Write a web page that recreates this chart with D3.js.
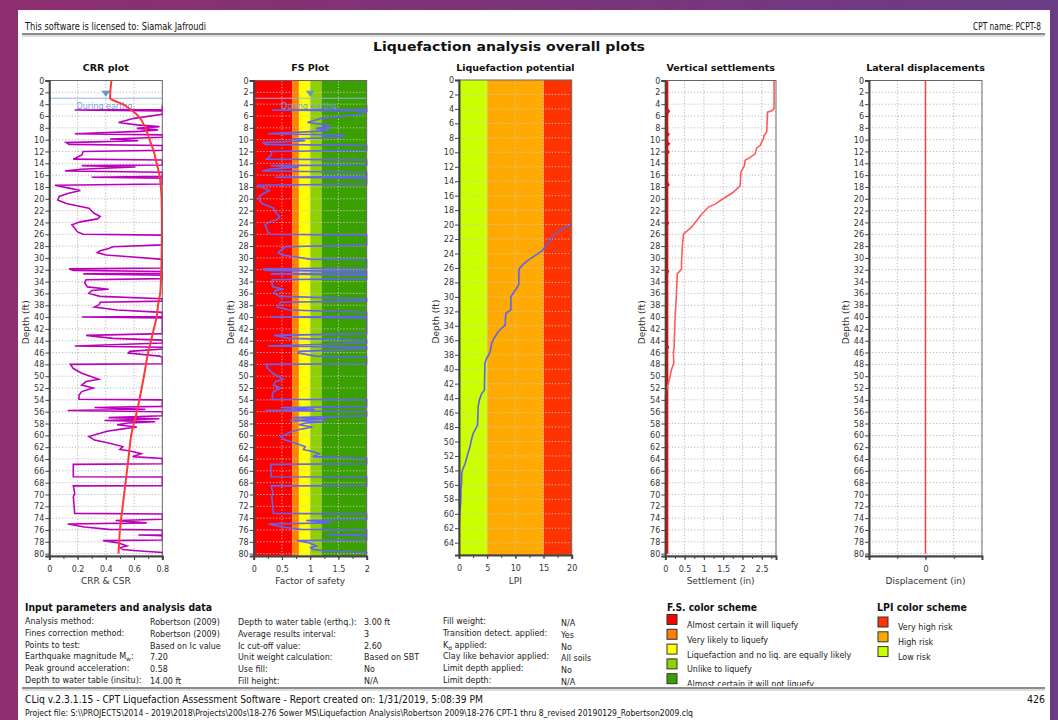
<!DOCTYPE html>
<html><head><meta charset="utf-8">
<script src="https://cdn.jsdelivr.net/npm/d3@7"></script>
<style>body{margin:0;overflow:hidden;} text{font-family:"DejaVu Sans",Verdana,sans-serif;}</style>
</head><body><script>
// ---------------- DATA ----------------
const depthTicks = d3.range(0, 81, 2);
const lpiDepthTicks = d3.range(0, 65, 2);
const crrTicks = [0, 0.2, 0.4, 0.6, 0.8];
const fsTicks = [0, 0.5, 1, 1.5, 2];
const lpiTicks = [0, 5, 10, 15, 20];
const settleTicks = [0, 0.5, 1, 1.5, 2, 2.5];
const latTicks = [0];
const waterTableEq = 3.0;

// CRR profile [depth ft, CRR] (values >= 0.8 shown at the plot edge)
const crrProfile = [[4.2,0.8],[4.9,0.8],[5.0,0.18],[5.15,0.8],[5.7,0.8],[6.4,0.6],[7.1,0.49],[7.5,0.62],[7.8,0.78],[8.1,0.62],[8.35,0.77],[8.6,0.64],[9.0,0.18],[9.2,0.8],[9.6,0.8],[9.9,0.43],[10.2,0.63],[10.5,0.12],[10.8,0.14],[11.0,0.8],[11.8,0.8],[12.0,0.24],[12.6,0.23],[13.3,0.17],[13.45,0.8],[14.3,0.8],[14.4,0.23],[14.6,0.61],[15.0,0.22],[15.3,0.11],[15.5,0.8],[16.2,0.8],[16.35,0.3],[16.5,0.8],[17.5,0.8],[17.7,0.04],[18.2,0.14],[18.6,0.22],[19.1,0.13],[19.6,0.07],[20.2,0.06],[20.8,0.12],[21.6,0.28],[22.5,0.32],[23.0,0.36],[23.4,0.34],[23.9,0.22],[24.4,0.16],[25.0,0.18],[25.6,0.20],[26.0,0.24],[26.15,0.8],[27.8,0.8],[28.1,0.45],[28.4,0.42],[28.8,0.36],[29.1,0.34],[29.5,0.4],[29.8,0.57],[30.2,0.78],[30.3,0.8],[31.7,0.8],[31.85,0.14],[32.1,0.17],[32.3,0.8],[32.6,0.8],[32.7,0.24],[32.9,0.8],[33.5,0.8],[33.7,0.26],[34.2,0.25],[34.9,0.27],[35.3,0.42],[35.5,0.30],[36.0,0.28],[36.5,0.36],[36.9,0.8],[37.3,0.8],[37.5,0.36],[38.0,0.35],[38.3,0.32],[38.8,0.48],[39.2,0.8],[39.9,0.8],[40.0,0.23],[40.15,0.8],[42.8,0.8],[43.1,0.26],[43.6,0.45],[43.9,0.8],[44.4,0.8],[44.9,0.18],[45.1,0.8],[45.4,0.8],[45.8,0.57],[46.1,0.56],[46.6,0.78],[46.8,0.8],[47.9,0.8],[48.0,0.15],[48.7,0.17],[49.5,0.23],[50.0,0.29],[50.5,0.35],[50.9,0.26],[51.5,0.23],[52.0,0.31],[52.6,0.23],[53.2,0.21],[53.9,0.21],[54.0,0.8],[55.1,0.8],[55.3,0.32],[55.6,0.68],[55.8,0.13],[56.0,0.8],[56.7,0.8],[57.0,0.42],[57.2,0.78],[57.5,0.39],[57.7,0.75],[57.9,0.56],[58.2,0.48],[58.6,0.62],[58.9,0.52],[59.3,0.41],[60.2,0.28],[60.8,0.32],[61.3,0.42],[61.9,0.52],[62.4,0.50],[62.7,0.58],[63.1,0.65],[63.6,0.59],[63.9,0.8],[64.8,0.8],[64.9,0.17],[67.0,0.17],[67.05,0.8],[68.5,0.8],[68.55,0.17],[69.8,0.18],[70.4,0.17],[73.2,0.18],[73.3,0.8],[74.2,0.8],[74.4,0.47],[74.8,0.69],[75.0,0.13],[75.5,0.25],[75.9,0.42],[76.0,0.8],[76.8,0.8],[76.85,0.63],[76.95,0.8],[77.7,0.8],[77.8,0.38],[78.2,0.49],[78.7,0.55],[79.0,0.5],[79.3,0.52],[79.5,0.62],[79.8,0.8],[80.0,0.8]];

// CSR profile [depth ft, CSR]
const csrProfile = [[0,0.44],[3,0.43],[3.2,0.44],[4,0.52],[5,0.58],[6,0.63],[8,0.68],[10,0.71],[12,0.74],[14,0.76],[16,0.78],[18,0.79],[20,0.795],[25,0.797],[30,0.795],[34,0.79],[36,0.785],[38,0.77],[40,0.76],[42,0.74],[44,0.72],[46,0.70],[50,0.67],[56,0.62],[60,0.58],[64,0.56],[70,0.53],[76,0.50],[80,0.49]];

// Factor of safety profile [depth ft, FS] (values >= 2 shown at the plot edge)
const fsProfile = [[4.2,2],[4.9,2],[5.0,0.32],[5.15,2],[5.7,1.9],[6.4,1.2],[7.1,0.95],[7.5,1.3],[7.8,1.35],[8.1,1.1],[8.35,1.35],[8.6,1.1],[9.0,0.26],[9.2,1.6],[9.6,1.55],[9.9,0.67],[10.2,0.91],[10.5,0.17],[10.8,0.2],[11.0,2],[11.8,2],[12.0,0.32],[12.6,0.31],[13.3,0.23],[13.45,2],[14.3,2],[14.4,0.3],[14.6,0.8],[15.0,0.29],[15.3,0.15],[15.5,2],[16.2,2],[16.35,0.38],[16.5,2],[17.5,2],[17.7,0.06],[18.2,0.18],[18.6,0.28],[19.1,0.17],[19.6,0.1],[20.2,0.1],[20.8,0.15],[21.6,0.35],[22.5,0.4],[23.0,0.46],[23.4,0.43],[23.9,0.28],[24.4,0.2],[25.0,0.23],[25.6,0.25],[26.0,0.3],[26.15,2],[27.8,2],[28.1,0.57],[28.4,0.53],[28.8,0.46],[29.1,0.43],[29.5,0.5],[29.8,0.72],[30.2,0.99],[30.3,2],[31.7,2],[31.85,0.18],[32.1,0.21],[32.3,2],[32.6,2],[32.7,0.3],[32.9,2],[33.5,2],[33.7,0.33],[34.2,0.32],[34.9,0.34],[35.3,0.53],[35.5,0.38],[36.0,0.36],[36.5,0.46],[36.9,2],[37.3,2],[37.5,0.47],[38.0,0.45],[38.3,0.42],[38.8,0.62],[39.2,2],[39.9,2],[40.0,0.3],[40.15,2],[42.8,2],[43.1,0.36],[43.6,0.62],[43.9,2],[44.4,2],[44.9,0.25],[45.1,2],[45.4,2],[45.8,0.8],[46.1,0.79],[46.6,1.1],[46.8,2],[47.9,2],[48.0,0.22],[48.7,0.25],[49.5,0.34],[50.0,0.43],[50.5,0.52],[50.9,0.39],[51.5,0.35],[52.0,0.48],[52.6,0.35],[53.2,0.33],[53.9,0.33],[54.0,2],[55.1,2],[55.3,0.5],[55.6,1.08],[55.8,0.2],[56.0,2],[56.7,2],[57.0,0.69],[57.2,1.3],[57.5,0.64],[57.7,1.25],[57.9,0.93],[58.2,0.8],[58.6,1.04],[58.9,0.87],[59.3,0.69],[60.2,0.48],[60.8,0.56],[61.3,0.73],[61.9,0.91],[62.4,0.88],[62.7,1.02],[63.1,1.16],[63.6,1.05],[63.9,2],[64.8,2],[64.9,0.3],[67.0,0.31],[67.05,2],[68.5,2],[68.55,0.31],[69.8,0.34],[70.4,0.32],[73.2,0.35],[73.3,2],[74.2,2],[74.4,0.93],[74.8,1.37],[75.0,0.26],[75.5,0.5],[75.9,0.83],[76.0,2],[76.8,2],[76.85,1.27],[76.95,2],[77.7,2],[77.8,0.77],[78.2,0.99],[78.7,1.11],[79.0,1.01],[79.3,1.05],[79.5,1.26],[79.8,2],[80.0,2]];

// Liquefaction potential index profile [depth ft, LPI]
const lpiProfile = [[19.9,20],[20.55,18.5],[21.0,17.6],[21.5,16.7],[22.2,16.2],[22.9,15.4],[23.6,14.8],[24.3,13.5],[24.9,12.3],[25.5,11.4],[26.1,10.7],[26.3,10.65],[28.3,10.6],[28.6,10.4],[29.5,9.6],[30.0,9.2],[31.8,9.2],[32.3,8.3],[33.9,8.2],[34.3,7.6],[35.0,6.8],[35.9,6.1],[36.4,5.8],[37.4,5.6],[37.8,5.4],[38.5,4.9],[39.2,4.6],[42.9,4.5],[43.4,4.0],[44.3,3.6],[45.2,3.4],[47.7,3.3],[48.2,3.0],[48.9,2.5],[49.8,2.2],[50.7,1.95],[51.9,1.5],[53.0,1.1],[53.9,0.65],[54.4,0.5],[55.8,0.45],[56.7,0.35],[58.5,0.3],[59.5,0.18],[60.4,0.1],[61.1,0.05],[61.6,0.0]];

// Cumulative vertical settlement [depth ft, settlement in]
const settleProfile = [[0,2.82],[4.8,2.82],[5.1,2.76],[5.35,2.65],[8.7,2.63],[9.3,2.56],[9.9,2.54],[10.4,2.5],[11.0,2.46],[11.4,2.37],[12.4,2.33],[13.0,2.2],[13.5,2.07],[14.4,2.05],[15.5,1.96],[17.8,1.94],[18.9,1.76],[20.0,1.5],[20.9,1.29],[21.4,1.12],[22.6,0.94],[23.7,0.81],[24.8,0.68],[25.9,0.48],[26.2,0.47],[28.2,0.44],[31.0,0.42],[31.9,0.42],[32.7,0.31],[36.1,0.29],[40.6,0.25],[45.0,0.23],[46.0,0.21],[47.8,0.22],[48.9,0.16],[50.1,0.12],[51.2,0.08],[52.3,0.03],[52.9,0.01],[53.5,0],[80,0]];

// Layer settlement [depth ft, settlement in]
const layerSettleProfile = [[0,0.04],[4.8,0.04],[5.2,0.08],[5.6,0.04],[8.8,0.04],[9.1,0.07],[9.4,0.04],[10.4,0.04],[10.7,0.08],[11.0,0.04],[11.8,0.04],[12.1,0.07],[12.4,0.04],[17.3,0.04],[17.6,0.07],[17.9,0.04],[23.8,0.04],[24.1,0.06],[24.4,0.04],[32.0,0.04],[32.3,0.06],[32.6,0.04],[44.8,0.04],[45.1,0.06],[45.4,0.04],[80,0.04]];

// Lateral displacement [depth ft, displacement in]
const latProfile = [[0,0],[80,0]];

const fsBandLimits = [0, 0.68, 0.8, 1.0, 1.2, 2];
const fsBandColors = ["#ff0000", "#ff8000", "#ffff00", "#90d000", "#3aa000"];
const lpiBandLimits = [0, 5, 15, 20];
const lpiBandColors = ["#ccff00", "#ffaa00", "#ff3300"];

const fsLegend = ["Almost certain it will liquefy", "Very likely to liquefy", "Liquefaction and no liq. are equally likely", "Unlike to liquefy", "Almost certain it will not liquefy"];
const lpiLegendColors = ["#ff3300", "#ffaa00", "#ccff00"];
const lpiLegend = ["Very high risk", "High risk", "Low risk"];

const paramLabels1 = ["Analysis method:", "Fines correction method:", "Points to test:", ["Earthquake magnitude M", "w", ":"], "Peak ground acceleration:", "Depth to water table (insitu):"];
const paramValues1 = ["Robertson (2009)", "Robertson (2009)", "Based on Ic value", "7.20", "0.58", "14.00 ft"];
const paramLabels2 = ["Depth to water table (erthq.):", "Average results interval:", "Ic cut-off value:", "Unit weight calculation:", "Use fill:", "Fill height:"];
const paramValues2 = ["3.00 ft", "3", "2.60", "Based on SBT", "No", "N/A"];
const paramLabels3 = ["Fill weight:", "Transition detect. applied:", ["K", "σ", " applied:"], "Clay like behavior applied:", "Limit depth applied:", "Limit depth:"];
const paramValues3 = ["N/A", "Yes", "No", "All soils", "No", "N/A"];

// ---------------- DRAWING ----------------
const W = 1058, H = 720;
const NARROW = '"Liberation Sans Narrow","DejaVu Sans Condensed",sans-serif';
const svg = d3.select("body").append("svg").attr("width", W).attr("height", H);
const defs = svg.append("defs");
const grad = defs.append("linearGradient").attr("id", "bg").attr("x1", 0).attr("x2", 1).attr("y1", 0).attr("y2", 0);
grad.append("stop").attr("offset", 0).attr("stop-color", "#8e2e6e");
grad.append("stop").attr("offset", 0.5).attr("stop-color", "#7c3479");
grad.append("stop").attr("offset", 1).attr("stop-color", "#6a3c86");
svg.append("rect").attr("width", W).attr("height", H).attr("fill", "url(#bg)");
svg.append("rect").attr("x", 18).attr("y", 10).attr("width", 1032).attr("height", 710).attr("fill", "#ffffff");

function text(g, x, y, s, o = {}) {
  const t = g.append("text").attr("x", x).attr("y", y).text(s)
    .attr("font-size", o.size || 8).attr("fill", o.fill || "#222")
    .attr("text-anchor", o.anchor || "start");
  if (o.weight) t.attr("font-weight", o.weight);
  if (o.family) t.style("font-family", o.family);
  if (o.ls) t.attr("letter-spacing", o.ls);
  if (o.len) t.attr("textLength", o.len).attr("lengthAdjust", "spacingAndGlyphs");
  return t;
}

// header
text(svg, 25, 30, "This software is licensed to: Siamak Jafroudi", {size: 10.5, family: NARROW, fill: "#111", len: 181});
text(svg, 1041, 30, "CPT name: PCPT-8", {size: 10.5, family: NARROW, anchor: "end", fill: "#111", len: 68});
svg.append("line").attr("x1", 22).attr("x2", 1045).attr("y1", 34).attr("y2", 34).attr("stroke", "#666").attr("stroke-width", 1.5);
svg.append("line").attr("x1", 22).attr("x2", 1045).attr("y1", 36).attr("y2", 36).attr("stroke", "#bbb").attr("stroke-width", 1);
text(svg, 509, 51, "Liquefaction analysis overall plots", {size: 13, weight: "bold", anchor: "middle", fill: "#111", len: 272});

const line = (x, y) => d3.line().x(d => x(d[1])).y(d => y(d[0]));

function panel(c) {
  const x = d3.scaleLinear().domain(c.xDomain).range([c.left, c.right]).clamp(true);
  const y = d3.scaleLinear().domain(c.yDomain).range([c.top, c.bottom]);
  const g = svg.append("g");
  const id = "clip" + c.id;
  defs.append("clipPath").attr("id", id).append("rect")
    .attr("x", c.left - 1).attr("y", c.top).attr("width", c.right - c.left + 2).attr("height", c.bottom - c.top);
  if (c.bands) {
    c.bands.limits.slice(0, -1).forEach((l, i) => {
      g.append("rect").attr("x", x(l)).attr("y", c.top).attr("width", x(c.bands.limits[i + 1]) - x(l))
        .attr("height", c.bottom - c.top).attr("fill", c.bands.colors[i]);
    });
  }
  const gridCol = c.bands ? "#c8c8c8" : "#b8b8b8";
  c.yTicks.filter(d => d > 0).forEach(d => g.append("line").attr("x1", c.left).attr("x2", c.right)
    .attr("y1", y(d)).attr("y2", y(d)).attr("stroke", gridCol).attr("stroke-dasharray", "1.2,2"));
  c.xGrid.forEach(d => g.append("line").attr("x1", x(d)).attr("x2", x(d))
    .attr("y1", c.top).attr("y2", c.bottom).attr("stroke", gridCol).attr("stroke-dasharray", "1.2,2"));
  const inner = g.append("g").attr("clip-path", `url(#${id})`);
  c.draw(inner, x, y);
  g.append("rect").attr("x", c.left).attr("y", c.top).attr("width", c.right - c.left).attr("height", c.bottom - c.top)
    .attr("fill", "none").attr("stroke", "#666").attr("stroke-width", 1);
  // axes
  const ya = g.append("g").attr("transform", `translate(${c.left},0)`)
    .call(d3.axisLeft(y).tickValues(c.yTicks).tickSize(4).tickPadding(1).tickFormat(d => String(d)));
  const xa = g.append("g").attr("transform", `translate(0,${c.bottom})`)
    .call(d3.axisBottom(x).tickValues(c.xTicks).tickSize(4).tickPadding(6).tickFormat(d => String(d)));
  const xm = g.append("g").attr("transform", `translate(0,${c.bottom})`)
    .call(d3.axisBottom(x).tickValues(c.xMinor).tickSize(3).tickFormat(""));
  xm.select(".domain").remove();
  [ya, xa, xm].forEach(a => {
    a.selectAll(".domain").attr("stroke", "#444").attr("stroke-width", 2);
    a.selectAll(".tick line").attr("stroke", "#444");
    a.selectAll("text").attr("font-size", 8).attr("fill", "#333").style("font-family", '"DejaVu Sans",sans-serif');
  });
  // titles
  text(svg, (c.left + c.right) / 2, 71, c.title, {size: 9.5, weight: "bold", anchor: "middle", fill: "#111"});
  text(svg, (c.left + c.right) / 2, 584, c.xLabel, {size: 9, anchor: "middle", fill: "#333"});
  svg.append("text").attr("transform", `translate(${c.left - 20},${(c.top + c.bottom) / 2 + 4}) rotate(-90)`)
    .attr("text-anchor", "middle").attr("font-size", 9).attr("fill", "#333").text("Depth (ft)");
  return {x, y};
}

function waterTable(g, x, y, xv, c) {
  g.append("line").attr("x1", c.left).attr("x2", c.right).attr("y1", y(waterTableEq)).attr("y2", y(waterTableEq))
    .attr("stroke", "#8fb4e3").attr("stroke-width", 1.2);
  const cx = x(xv), ty = y(waterTableEq) - 1.5;
  g.append("path").attr("d", `M${cx - 4.5},${ty - 6}L${cx + 4.5},${ty - 6}L${cx},${ty}Z`).attr("fill", "#5b9bd5");
  text(g, cx, y(waterTableEq) + 11, "During earthq.", {size: 8, anchor: "middle", fill: "#6fa3dc"});
}

const TOP = 80.5, BOT = 556;
// CRR
const crrC = {id: 1, left: 49.3, right: 162.3, top: TOP, bottom: BOT, xDomain: [0, 0.8], yDomain: [0, 80.4],
  xTicks: crrTicks, xMinor: d3.range(0, 0.81, 0.1), xGrid: [0.2, 0.4, 0.6], yTicks: depthTicks,
  title: "CRR plot", xLabel: "CRR & CSR",
  draw: (g, x, y) => {
    waterTable(g, x, y, 0.4, crrC);
    g.append("path").datum(crrProfile).attr("d", line(x, y)).attr("fill", "none").attr("stroke", "#bb00bb").attr("stroke-width", 1.6);
    g.append("path").datum(csrProfile).attr("d", line(x, y).curve(d3.curveMonotoneY)).attr("fill", "none").attr("stroke", "#ff3838").attr("stroke-width", 2);
  }};
panel(crrC);
// FS
const fsC = {id: 2, left: 253.7, right: 366.7, top: TOP, bottom: BOT, xDomain: [0, 2], yDomain: [0, 80.4],
  xTicks: fsTicks, xMinor: d3.range(0, 2.01, 0.25), xGrid: [0.5, 1, 1.5], yTicks: depthTicks,
  bands: {limits: fsBandLimits, colors: fsBandColors},
  title: "FS Plot", xLabel: "Factor of safety",
  draw: (g, x, y) => {
    waterTable(g, x, y, 1.0, fsC);
    g.append("path").datum(fsProfile).attr("d", line(x, y)).attr("fill", "none").attr("stroke", "#6464f0").attr("stroke-width", 1.6);
  }};
panel(fsC);
// LPI
const lpiC = {id: 3, left: 459, right: 571.7, top: 80, bottom: 555, xDomain: [0, 20], yDomain: [0, 65.7],
  xTicks: lpiTicks, xMinor: d3.range(0, 20.1, 2.5), xGrid: [5, 10, 15], yTicks: lpiDepthTicks,
  bands: {limits: lpiBandLimits, colors: lpiBandColors},
  title: "Liquefaction potential", xLabel: "LPI",
  draw: (g, x, y) => {
    g.append("path").datum(lpiProfile).attr("d", line(x, y)).attr("fill", "none").attr("stroke", "#5c64ee").attr("stroke-width", 1.6);
  }};
panel(lpiC);
// Vertical settlements
const vsC = {id: 4, left: 665.3, right: 776, top: TOP, bottom: BOT, xDomain: [0, 2.87], yDomain: [0, 80.4],
  xTicks: settleTicks, xMinor: d3.range(0, 2.8, 0.25), xGrid: [0.5, 1, 1.5, 2, 2.5], yTicks: depthTicks,
  title: "Vertical settlements", xLabel: "Settlement (in)",
  draw: (g, x, y) => {
    g.append("path").datum(layerSettleProfile).attr("d", line(x, y)).attr("fill", "none").attr("stroke", "#ff0000").attr("stroke-width", 3);
    g.append("path").datum(settleProfile).attr("d", line(x, y)).attr("fill", "none").attr("stroke", "#ff5a5a").attr("stroke-width", 1.6);
  }};
panel(vsC);
// Lateral displacements
const ldC = {id: 5, left: 869, right: 982, top: TOP, bottom: BOT, xDomain: [-1, 1], yDomain: [0, 80.4],
  xTicks: latTicks, xMinor: [-1, -0.5, 0, 0.5, 1], xGrid: [-0.5, 0.5], yTicks: depthTicks,
  title: "Lateral displacements", xLabel: "Displacement (in)",
  draw: (g, x, y) => {
    g.append("path").datum(latProfile).attr("d", line(x, y)).attr("fill", "none").attr("stroke", "#ff4040").attr("stroke-width", 1.5);
  }};
panel(ldC);

// ---------------- bottom parameters ----------------
text(svg, 25, 611, "Input parameters and analysis data", {size: 10.5, weight: "bold", fill: "#111", len: 187});
function label(g, x, y, s) {
  if (Array.isArray(s)) {
    const t = g.append("text").attr("x", x).attr("y", y).attr("font-size", 8).attr("fill", "#222");
    t.append("tspan").text(s[0]);
    t.append("tspan").text(s[1]).attr("font-size", 6).attr("dy", 2);
    t.append("tspan").text(s[2]).attr("dy", -2);
  } else text(g, x, y, s, {size: 8});
}
const rowY = i => 624 + i * 11.8;
paramLabels1.forEach((s, i) => label(svg, 25, rowY(i), s));
paramValues1.forEach((s, i) => text(svg, 150, rowY(i) + 1, s, {size: 8}));
paramLabels2.forEach((s, i) => label(svg, 238, rowY(i) + 1, s));
paramValues2.forEach((s, i) => text(svg, 364, rowY(i) + 1, s, {size: 8}));
paramLabels3.forEach((s, i) => label(svg, 443, rowY(i), s));
paramValues3.forEach((s, i) => text(svg, 561, rowY(i) + 2, s, {size: 8}));

// legends
const legClip = defs.append("clipPath").attr("id", "legclip");
legClip.append("rect").attr("x", 600).attr("y", 595).attr("width", 440).attr("height", 91);
const lg = svg.append("g").attr("clip-path", "url(#legclip)");
text(lg, 667, 611, "F.S. color scheme", {size: 10, weight: "bold", fill: "#111", len: 90});
fsLegend.forEach((s, i) => {
  lg.append("rect").attr("x", 667).attr("y", 614.5 + i * 14.8).attr("width", 10).attr("height", 10)
    .attr("fill", fsBandColors[i]).attr("stroke", "#333").attr("stroke-width", 1);
  text(lg, 687, 628 + i * 14.8, s, {size: 8});
});
const lpiClip = defs.append("clipPath").attr("id", "lpiclip");
lpiClip.append("rect").attr("x", 860).attr("y", 595).attr("width", 180).attr("height", 65);
const lg2 = svg.append("g").attr("clip-path", "url(#lpiclip)");
text(lg2, 877, 611, "LPI color scheme", {size: 10, weight: "bold", fill: "#111", len: 90});
lpiLegend.forEach((s, i) => {
  lg2.append("rect").attr("x", 878).attr("y", 617 + i * 14.8).attr("width", 10).attr("height", 10)
    .attr("fill", lpiLegendColors[i]).attr("stroke", "#333").attr("stroke-width", 1);
  text(lg2, 898, 630 + i * 14.8, s, {size: 8});
});

// footer
svg.append("line").attr("x1", 22).attr("x2", 1045).attr("y1", 688).attr("y2", 688).attr("stroke", "#666").attr("stroke-width", 1.5);
svg.append("line").attr("x1", 22).attr("x2", 1045).attr("y1", 690).attr("y2", 690).attr("stroke", "#bbb").attr("stroke-width", 1);
text(svg, 25, 703, "CLiq v.2.3.1.15 - CPT Liquefaction Assessment Software - Report created on: 1/31/2019, 5:08:39 PM", {size: 10.5, family: NARROW, fill: "#111", len: 458});
text(svg, 1045, 703, "426", {size: 10.5, family: NARROW, anchor: "end", fill: "#111"});
text(svg, 25, 716, "Project file: S:\\\\PROJECTS\\2014 - 2019\\2018\\Projects\\200s\\18-276 Sower MS\\Liquefaction Analysis\\Robertson 2009\\18-276 CPT-1 thru 8_revised 20190129_Robertson2009.clq", {size: 8.5, family: NARROW, fill: "#111", len: 668});
</script></body></html>
